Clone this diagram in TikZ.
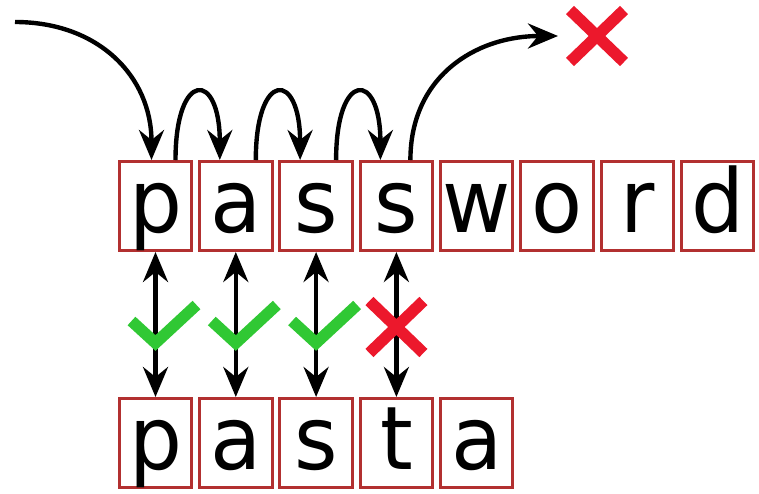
\documentclass[tikz,border=0pt]{standalone}
\usepackage{fontspec}
\newfontfamily\boxfont[FakeStretch=0.95]{DejaVu Sans}
\usetikzlibrary{calc, positioning, arrows.meta}
\definecolor{boxred}{RGB}{178,48,48}
\definecolor{okgreen}{RGB}{48,200,52}
\definecolor{badred}{RGB}{236,24,44}

\begin{document}
\begin{tikzpicture}[
    letter/.style={draw=boxred,line width=0.06cm,minimum width=1.45cm,minimum height=1.78cm,
        inner sep=0pt,text height=1.2cm,text depth=0.16cm,font=\boxfont\fontsize{50}{60}\selectfont},
    hop/.style={->,line width=2.5pt},
    link/.style={<->,line width=2.5pt},
    >={Stealth[length=0.6cm,width=0.5cm,inset=0.2cm]},
    tick/.pic={\draw[okgreen,line width=0.23cm] (-0.48,0.44) -- (0,0) -- (0.82,0.76);},
    nope/.pic={\draw[badred,line width=0.23cm] (-0.54,-0.52) -- (0.54,0.52) (-0.54,0.52) -- (0.54,-0.52);}
]
    \useasboundingbox (0,0) rectangle (15.18,9.86);

    % password
    \node[letter] (pw1) at (3.11,5.74) {p};
    \node[letter,right=0.096cm of pw1] (pw2) {a};
    \node[letter,right=0.096cm of pw2] (pw3) {s};
    \node[letter,right=0.096cm of pw3] (pw4) {s};
    \node[letter,right=0.096cm of pw4] (pw5) {w};
    \node[letter,right=0.096cm of pw5] (pw6) {o};
    \node[letter,right=0.096cm of pw6] (pw7) {r};
    \node[letter,right=0.096cm of pw7] (pw8) {d};

    % pasta
    \node[letter,below=2.9cm of pw1] (pa1) {p};
    \node[letter,right=0.096cm of pa1] (pa2) {a};
    \node[letter,right=0.096cm of pa2] (pa3) {s};
    \node[letter,right=0.096cm of pa3] (pa4) {t};
    \node[letter,right=0.096cm of pa4] (pa5) {a};

    % walk along the text
    \coordinate (start) at (0.3,9.42);
    \coordinate (stop) at (11.94,9.14);
    \draw[hop] (start) to[out=0,in=90,looseness=1.1] ([xshift=-0.08cm]pw1.north);
    \draw[hop] ([xshift=0.4cm]pw1.north) .. controls +(0,1.8) and +(0,1.8) .. ([xshift=-0.32cm]pw2.north);
    \draw[hop] ([xshift=0.4cm]pw2.north) .. controls +(0,1.8) and +(0,1.8) .. ([xshift=-0.32cm]pw3.north);
    \draw[hop] ([xshift=0.4cm]pw3.north) .. controls +(0,1.8) and +(0,1.8) .. ([xshift=-0.32cm]pw4.north);
    \draw[hop] ([xshift=0.28cm]pw4.north) to[out=90,in=180,looseness=1.1] ([xshift=-0.78cm]stop);
    \pic at (stop) {nope};

    % compare
    \draw[link] (pw1.south) -- (pa1.north);
    \draw[link] (pw2.south) -- (pa2.north);
    \draw[link] (pw3.south) -- (pa3.north);
    \draw[link] (pw4.south) -- (pa4.north);
    \pic at (3.11,3.0) {tick};
    \pic at (4.716,3.0) {tick};
    \pic at (6.322,3.0) {tick};
    \pic at (7.928,3.32) {nope};
\end{tikzpicture}
\end{document}
